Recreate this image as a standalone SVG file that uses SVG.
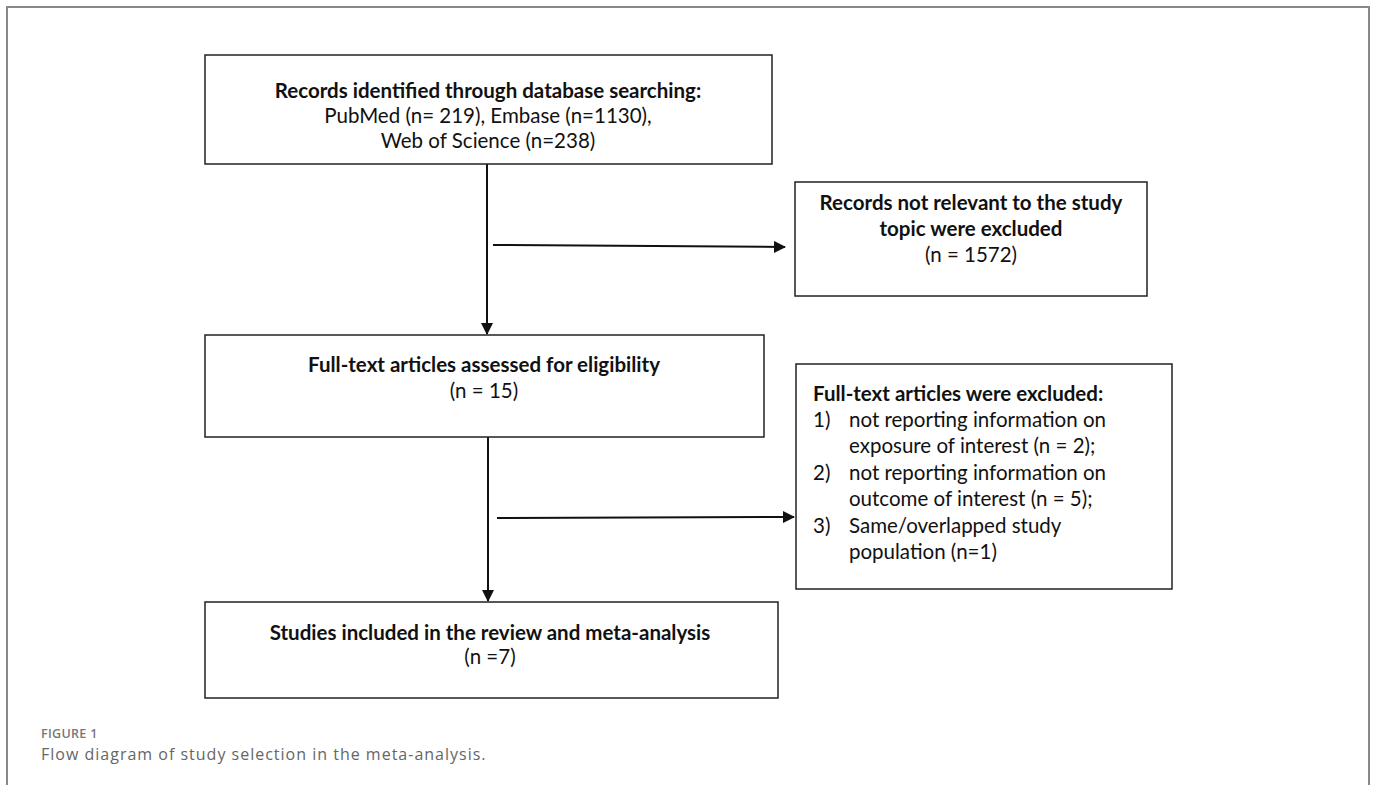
<svg xmlns="http://www.w3.org/2000/svg" width="1375" height="785" viewBox="0 0 1375 785">
<style>
.box{fill:#fff;stroke:#222;stroke-width:1.5}
.t{font-family:Lato,"Liberation Sans",sans-serif;font-size:20.5px;fill:#111}
.b{font-weight:bold}
.c{text-anchor:middle}
.ln{stroke:#111;stroke-width:2;fill:none}
.cap1{font-family:"Open Sans",Lato,sans-serif;font-size:12.5px;fill:#777;font-weight:600;letter-spacing:0.3px}
.cap2{font-family:"Open Sans",Lato,sans-serif;font-size:16px;fill:#666;letter-spacing:1px}
</style>
<defs>
<marker id="ah" markerWidth="12" markerHeight="12" refX="11" refY="6" orient="auto" markerUnits="userSpaceOnUse">
<path d="M0,0 L12,6 L0,12 Z" fill="#111"/>
</marker>
</defs>
<rect width="1375" height="785" fill="#fff"/>
<path d="M7,785 V7 H1369 V785" fill="none" stroke="#888" stroke-width="2"/>

<g id="connectors">
<line class="ln" x1="487" y1="164" x2="487" y2="334" marker-end="url(#ah)"/>
<line class="ln" x1="493" y1="245" x2="785" y2="247" marker-end="url(#ah)"/>
<line class="ln" x1="488" y1="437" x2="488" y2="601" marker-end="url(#ah)"/>
<line class="ln" x1="497" y1="518" x2="794" y2="517" marker-end="url(#ah)"/>
</g>

<g id="n1">
<rect class="box" x="205" y="55" width="567" height="109"/>
<text class="t b c" x="488" y="98">Records identified through database searching:</text>
<text class="t c" x="488" y="123">PubMed (n= 219), Embase (n=1130),</text>
<text class="t c" x="488" y="148">Web of Science (n=238)</text>
</g>

<g id="n2">
<rect class="box" x="795" y="182" width="352" height="114"/>
<text class="t b c" x="971" y="210">Records not relevant to the study</text>
<text class="t b c" x="971" y="236">topic were excluded</text>
<text class="t c" x="971" y="262">(n = 1572)</text>
</g>

<g id="n3">
<rect class="box" x="205" y="335" width="559" height="102"/>
<text class="t b c" x="484" y="372">Full-text articles assessed for eligibility</text>
<text class="t c" x="484" y="398">(n = 15)</text>
</g>

<g id="n4">
<rect class="box" x="796" y="364" width="376" height="225"/>
<text class="t b" x="813" y="401">Full-text articles were excluded:</text>
<text class="t" x="813" y="427">1)</text>
<text class="t" x="849" y="427">not reporting information on</text>
<text class="t" x="849" y="453">exposure of interest (n = 2);</text>
<text class="t" x="813" y="480">2)</text>
<text class="t" x="849" y="480">not reporting information on</text>
<text class="t" x="849" y="506">outcome of interest (n = 5);</text>
<text class="t" x="813" y="533">3)</text>
<text class="t" x="849" y="533">Same/overlapped study</text>
<text class="t" x="849" y="559">population (n=1)</text>
</g>

<g id="n5">
<rect class="box" x="205" y="602" width="573" height="96"/>
<text class="t b c" x="490" y="640">Studies included in the review and meta-analysis</text>
<text class="t c" x="490" y="664">(n =7)</text>
</g>

<g id="caption">
<text class="cap1" x="41" y="738">FIGURE 1</text>
<text class="cap2" x="41" y="760">Flow diagram of study selection in the meta-analysis.</text>
</g>
</svg>
